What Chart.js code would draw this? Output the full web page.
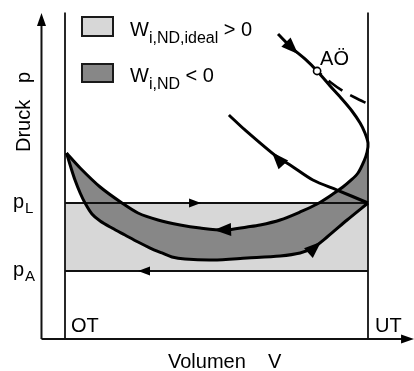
<!DOCTYPE html>
<html><head><meta charset="utf-8">
<script src="https://cdn.jsdelivr.net/npm/chart.js@4/dist/chart.umd.min.js"></script>
<style>html,body{margin:0;padding:0;background:#fff}#wrap{width:414px;height:371px;position:relative}</style>
</head><body><div id="wrap"><canvas id="c"></canvas></div>
<script>
// x: Volumen V (OT = 0, UT = 1) ; y: Druck p (pA = 1, pL = 2)
const strokeLabels = ["OT", "UT"];
const strokeVolumes = [0, 1];
const pressureLabels = ["A", "L"];      // p_A , p_L
const pressureValues = [1, 2];

// expansion curve through AÖ, turning at UT and running back to OT
const upperX = [0.703,0.749,0.792,0.832,0.875,0.914,0.947,0.974,0.990,1.000,0.997,0.987,0.967,0.941,0.917,0.884,0.832,0.776,0.710,0.644,0.601,0.528,0.446,0.380,0.307,0.241,0.188,0.116,0.050,0.005];
const upperY = [4.485,4.279,4.118,3.941,3.721,3.529,3.353,3.176,3.029,2.882,2.750,2.618,2.441,2.324,2.235,2.132,1.985,1.868,1.750,1.676,1.647,1.603,1.632,1.676,1.750,1.853,2.000,2.235,2.515,2.735];
// lower boundary (OT -> UT at pL)
const lowerX = [0.005,0.020,0.033,0.050,0.066,0.089,0.116,0.155,0.198,0.241,0.281,0.320,0.353,0.396,0.488,0.601,0.710,0.776,0.818,0.865,0.931,1.000];
const lowerY = [2.735,2.515,2.338,2.147,2.000,1.838,1.735,1.632,1.529,1.426,1.338,1.265,1.206,1.176,1.162,1.191,1.221,1.265,1.338,1.500,1.750,2.000];
// curve from UT at pL rising to the upper middle
const intakeX = [0.541,0.594,0.700,0.743,0.818,0.898,1.000];
const intakeY = [3.294,3.074,2.676,2.559,2.338,2.191,2.000];
// dashed ideal expansion after AÖ
const dashedX = [0.832,0.875,0.917,0.960,1.000];
const dashedY = [3.941,3.779,3.647,3.544,3.456];
// AÖ point
const aoX = [0.832];
const aoY = [3.941];
// axes (origin and arrow tips)
const axisOrigin = [-0.0776, 0];
const axisTopY = 4.794;
const axisRightX = 1.152;
const strokeLineTop = 4.80;
// arrow heads: tip and a point behind the tip
const arrowTipX  = [0.769, 0.492, 0.845, 0.683, 0.449, 0.241, -0.0776, 1.152];
const arrowTipY  = [4.190, 1.603, 1.430, 2.745, 2.000, 1.000, 4.794, 0];
const arrowBackX = [0.703, 0.541, 0.815, 0.715, 0.413, 0.281, -0.0776, 1.100];
const arrowBackY = [4.485, 1.610, 1.309, 2.588, 2.000, 1.000, 4.600, 0];
const arrowKind  = ["big","big","big","big","small","small","axis","axis"];

const fillStart = upperX.indexOf(1.000);
const pts = (xs, ys) => xs.map((v, i) => ({x: v, y: ys[i]}));
const darkPoly = pts(upperX.slice(fillStart), upperY.slice(fillStart)).concat(pts(lowerX, lowerY));
const lightPoly = [
  {x: strokeVolumes[0], y: pressureValues[0]}, {x: strokeVolumes[1], y: pressureValues[0]},
  {x: strokeVolumes[1], y: pressureValues[1]}, {x: strokeVolumes[0], y: pressureValues[1]}
];
const LIGHT = '#d7d7d7', DARK = '#878787', INK = '#000';
const FONT = '"Liberation Sans", Arial, Helvetica, sans-serif';

const line = (data, extra) => Object.assign({data, showLine: true, pointRadius: 0, borderColor: INK, borderWidth: 3, fill: false, tension: 0.3, order: 1}, extra || {});

const datasets = [
  line(lightPoly, {backgroundColor: LIGHT, fill: 'shape', borderWidth: 0, tension: 0, order: 20}),
  line(darkPoly, {backgroundColor: DARK, fill: 'shape', borderWidth: 0, tension: 0, order: 19}),
  // pL and pA lines
  line(pts(strokeVolumes, [pressureValues[1], pressureValues[1]]), {borderWidth: 2, tension: 0, borderColor: '#111', order: 5}),
  line(pts(strokeVolumes, [pressureValues[0], pressureValues[0]]), {borderWidth: 2, tension: 0, borderColor: '#111', order: 5}),
  // OT / UT vertical lines
  line([{x: strokeVolumes[0], y: 0}, {x: strokeVolumes[0], y: strokeLineTop}], {borderWidth: 1.8, tension: 0, borderColor: '#111', order: 5}),
  line([{x: strokeVolumes[1], y: 0}, {x: strokeVolumes[1], y: strokeLineTop}], {borderWidth: 1.8, tension: 0, borderColor: '#111', order: 5}),
  // axes
  line([{x: axisOrigin[0], y: axisOrigin[1]}, {x: axisOrigin[0], y: axisTopY - 0.1}], {borderWidth: 2, tension: 0, borderColor: '#111', order: 5}),
  line([{x: axisOrigin[0], y: axisOrigin[1]}, {x: axisRightX - 0.03, y: axisOrigin[1]}], {borderWidth: 2, tension: 0, borderColor: '#111', order: 5}),
  // curves
  line(pts(upperX, upperY)),
  line(pts(lowerX, lowerY)),
  line(pts(intakeX, intakeY)),
  line(pts(dashedX, dashedY), {borderDash: [17, 9], borderDashOffset: 11, borderWidth: 2.6}),
  {data: pts(aoX, aoY), showLine: false, pointRadius: 3.6, pointBackgroundColor: '#fff', pointBorderColor: INK, pointBorderWidth: 1.6, order: 0}
];

const annot = {
  id: 'annot',
  afterDatasetsDraw(chart) {
    const {ctx, scales: {x, y}} = chart;
    const X = v => x.getPixelForValue(v), Y = v => y.getPixelForValue(v);
    ctx.save();
    ctx.fillStyle = INK;
    const sizes = {big: [17, 13], small: [12, 9], axis: [13, 9]};
    arrowTipX.forEach((tx, i) => {
      const px = X(tx), py = Y(arrowTipY[i]);
      const bx = X(arrowBackX[i]), by = Y(arrowBackY[i]);
      let dx = px - bx, dy = py - by; const d = Math.hypot(dx, dy); dx /= d; dy /= d;
      const [L, W] = sizes[arrowKind[i]];
      ctx.beginPath();
      ctx.moveTo(px, py);
      ctx.lineTo(px - L * dx - W / 2 * dy, py - L * dy + W / 2 * dx);
      ctx.lineTo(px - L * dx + W / 2 * dy, py - L * dy - W / 2 * dx);
      ctx.closePath(); ctx.fill();
    });
    ctx.textBaseline = 'alphabetic';
    ctx.textAlign = 'left';
    // OT / UT
    ctx.font = '20px ' + FONT;
    ctx.fillText(strokeLabels[0], X(strokeVolumes[0]) + 6, Y(0) - 7);
    ctx.fillText(strokeLabels[1], X(strokeVolumes[1]) + 7, Y(0) - 7);
    // AÖ
    ctx.fillText('AÖ', X(aoX[0]) + 3, Y(aoY[0]) - 6);
    // p_L, p_A
    pressureValues.forEach((v, i) => {
      ctx.font = '20px ' + FONT;
      ctx.fillText('p', 13, Y(v) + 5);
      ctx.font = '15px ' + FONT;
      ctx.fillText(pressureLabels[i], 25, Y(v) + 10);
    });
    // axis titles
    ctx.font = '20px ' + FONT;
    ctx.fillText('Volumen    V', 168, 368);
    ctx.save();
    ctx.translate(30, 152); ctx.rotate(-Math.PI / 2);
    ctx.fillText('Druck   p', 0, 0);
    ctx.restore();
    // legend
    const rows = [{fill: LIGHT, sub: 'i,ND,ideal', rel: ' > 0', y: 17, h: 19, base: 36},
                  {fill: DARK, sub: 'i,ND', rel: ' < 0', y: 64, h: 18, base: 82}];
    rows.forEach(r => {
      ctx.fillStyle = r.fill; ctx.fillRect(82, r.y, 31, r.h);
      ctx.strokeStyle = '#1a1a1a'; ctx.lineWidth = 2; ctx.strokeRect(82, r.y, 31, r.h);
      ctx.fillStyle = INK;
      let cx = 130;
      ctx.font = '20px ' + FONT; ctx.fillText('W', cx, r.base); cx += ctx.measureText('W').width;
      ctx.font = '16px ' + FONT; ctx.fillText(r.sub, cx, r.base + 7); cx += ctx.measureText(r.sub).width;
      ctx.font = '20px ' + FONT; ctx.fillText(r.rel, cx, r.base);
    });
    ctx.restore();
  }
};

new Chart(document.getElementById('c'), {
  type: 'scatter',
  data: {datasets},
  options: {
    responsive: true, maintainAspectRatio: false, animation: false,
    layout: {padding: 0, autoPadding: false},
    plugins: {legend: {display: false}, tooltip: {enabled: false}},
    scales: {
      x: {type: 'linear', display: false, min: -65 / 303, max: 349 / 303},
      y: {type: 'linear', display: false, min: -32 / 68, max: 339 / 68}
    }
  },
  plugins: [annot]
});
</script></body></html>
